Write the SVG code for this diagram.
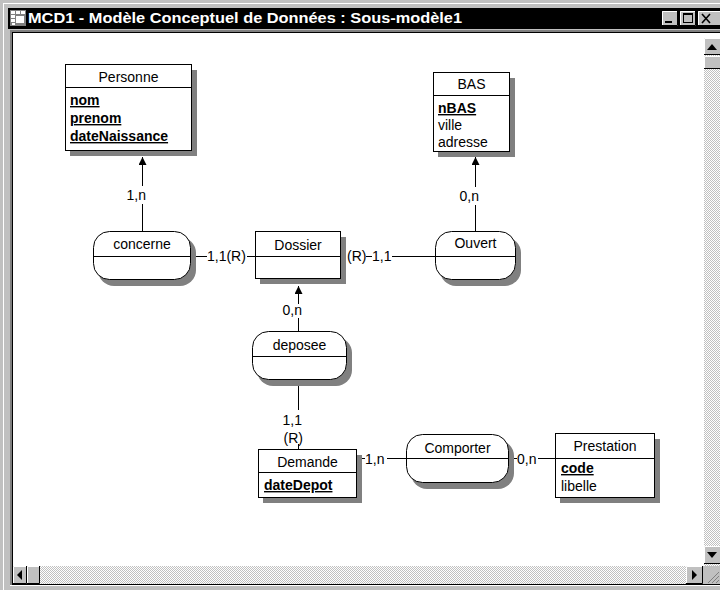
<svg xmlns="http://www.w3.org/2000/svg" width="720" height="590" viewBox="0 0 720 590">
  <style>
    .lbl { font-family: "Liberation Sans", Arial, sans-serif; font-size: 14px; fill: #000; }
    .attr { font-weight: bold; text-decoration: underline; font-size: 14px; }
    .mid { text-anchor: middle; }
    .end { text-anchor: end; }
    .box { fill: #fff; stroke: #000; stroke-width: 1; }
    .shadow { fill: #808080; }
    .sep { stroke: #000; stroke-width: 1; }
    .conn { stroke: #000; stroke-width: 1; fill: none; }
    .btn { fill: #c0c0c0; }
    .hi { stroke: #fff; stroke-width: 1; fill: none; }
    .lo { stroke: #808080; stroke-width: 1; fill: none; }
    .dk { stroke: #000; stroke-width: 1; fill: none; }
  </style>
  <defs>
    <pattern id="dither" width="2" height="2" patternUnits="userSpaceOnUse">
      <rect width="2" height="2" fill="#ffffff"/>
      <rect width="1" height="1" fill="#c0c0c0"/>
      <rect x="1" y="1" width="1" height="1" fill="#c0c0c0"/>
    </pattern>
    <marker id="arrow" markerUnits="userSpaceOnUse" markerWidth="9" markerHeight="9" refX="8" refY="4" orient="auto">
      <path d="M0,0 L8,4 L0,8 Z" fill="#000"/>
    </marker>
  </defs>

  <!-- window frame -->
  <rect x="0" y="0" width="720" height="590" fill="#c0c0c0"/>
  <line x1="3.5" y1="3" x2="3.5" y2="590" class="hi"/>
  <line x1="3" y1="3.5" x2="720" y2="3.5" class="hi"/>

  <!-- title bar -->
  <g id="titlebar">
    <rect x="8" y="8" width="712" height="21" fill="#000"/>
    <g id="appicon">
      <rect x="10" y="10" width="16" height="16" fill="#808080"/>
      <rect x="11" y="11" width="4" height="3" fill="#fff"/>
      <rect x="16" y="11" width="4" height="3" fill="#fff"/>
      <rect x="21" y="11" width="4" height="3" fill="#fff"/>
      <rect x="11" y="15" width="4" height="3" fill="#fff"/>
      <rect x="16" y="16" width="8" height="7" fill="#fff"/>
      <rect x="11" y="19" width="4" height="3" fill="#fff"/>
      <rect x="12" y="23" width="3" height="2" fill="#fff"/>
    </g>
    <text x="28" y="23" font-family="'Liberation Sans', Arial, sans-serif" font-size="15" font-weight="bold" fill="#fff" textLength="434" lengthAdjust="spacingAndGlyphs">MCD1 - Modèle Conceptuel de Données : Sous-modèle1</text>
    <!-- minimize / maximize / close buttons -->
    <g id="btn-min">
      <rect x="662" y="11" width="16" height="15" class="btn"/>
      <path d="M662.5,26 V11.5 H678" class="hi"/>
      <path d="M662,25.5 H677.5 V11" class="dk"/>
      <rect x="665" y="21" width="7" height="2" fill="#000"/>
    </g>
    <g id="btn-max">
      <rect x="680" y="11" width="16" height="15" class="btn"/>
      <path d="M680.5,26 V11.5 H696" class="hi"/>
      <path d="M680,25.5 H695.5 V11" class="dk"/>
      <rect x="683.5" y="13.5" width="9" height="9" fill="none" stroke="#000"/>
      <line x1="683" y1="14.5" x2="693" y2="14.5" stroke="#000"/>
    </g>
    <g id="btn-close">
      <rect x="698" y="11" width="22" height="15" class="btn"/>
      <path d="M698.5,26 V11.5 H720" class="hi"/>
      <line x1="698" y1="25.5" x2="720" y2="25.5" class="dk"/>
      <path d="M702,14 L710,23 M710,14 L702,23" stroke="#000" stroke-width="1.6"/>
    </g>
  </g>

  <!-- client area -->
  <rect x="10" y="30" width="710" height="556" fill="#808080"/>
  <rect x="12" y="32" width="708" height="554" fill="#000"/>
  <rect x="13" y="33" width="707" height="533" fill="#fff"/>

  <!-- vertical scrollbar -->
  <g id="vscroll">
    <rect x="704" y="38" width="16" height="528" fill="url(#dither)"/>
    <rect x="704" y="38" width="16" height="17" class="btn"/>
    <path d="M704.5,55 V38.5 H720" class="hi"/>
    <line x1="704" y1="54.5" x2="720" y2="54.5" class="dk"/>
    <path d="M707,50 L717,50 L712,44 Z" fill="#000"/>
    <rect x="704" y="56" width="16" height="13" class="btn"/>
    <path d="M704.5,69 V56.5 H720" class="hi"/>
    <line x1="704" y1="68.5" x2="720" y2="68.5" class="dk"/>
    <rect x="704" y="546" width="16" height="18" class="btn"/>
    <path d="M704.5,564 V546.5 H720" class="hi"/>
    <line x1="704" y1="563.5" x2="720" y2="563.5" class="dk"/>
    <path d="M707,552 L717,552 L712,558 Z" fill="#000"/>
  </g>

  <!-- horizontal scrollbar -->
  <g id="hscroll">
    <rect x="13" y="566" width="707" height="18" fill="url(#dither)"/>
    <rect x="13" y="566" width="14" height="18" class="btn"/>
    <path d="M13.5,584 V566.5 H27" class="hi"/>
    <path d="M13,583.5 H26.5 V566" class="dk"/>
    <path d="M22,570 L22,580 L17,575 Z" fill="#000"/>
    <rect x="27" y="566" width="13" height="18" class="btn"/>
    <path d="M27.5,584 V566.5 H40" class="hi"/>
    <path d="M27,583.5 H39.5 V566" class="dk"/>
    <rect x="686" y="566" width="17" height="18" class="btn"/>
    <path d="M686.5,584 V566.5 H703" class="hi"/>
    <path d="M686,583.5 H702.5 V566" class="dk"/>
    <path d="M692,570 L692,580 L697,575 Z" fill="#000"/>
    <rect x="703" y="566" width="17" height="18" class="btn"/>
    <path d="M708,583 L719,572 M712,583 L719,576 M716,583 L719,580" stroke="#808080" stroke-width="1"/>
  </g>
  <line x1="10" y1="585.5" x2="720" y2="585.5" class="hi"/>

  <!-- connectors -->
  <g id="connectors">
    <!-- concerne - Personne -->
    <line x1="142.5" y1="232" x2="142.5" y2="204" class="conn"/>
    <line x1="142.5" y1="186" x2="142.5" y2="157" class="conn" marker-end="url(#arrow)"/>
    <text x="146" y="200" class="lbl end">1,n</text>
    <!-- concerne - Dossier -->
    <line x1="191" y1="256.5" x2="207" y2="256.5" class="conn"/>
    <text x="207" y="261" class="lbl">1,1(R)</text>
    <line x1="247" y1="256.5" x2="256" y2="256.5" class="conn"/>
    <!-- Dossier - Ouvert -->
    <text x="347" y="261" class="lbl">(R)</text>
    <line x1="366" y1="256.5" x2="372" y2="256.5" class="conn"/>
    <text x="372" y="261" class="lbl">1,1</text>
    <line x1="392" y1="256.5" x2="436" y2="256.5" class="conn"/>
    <!-- Ouvert - BAS -->
    <line x1="475.5" y1="232" x2="475.5" y2="205" class="conn"/>
    <line x1="475.5" y1="187" x2="475.5" y2="157" class="conn" marker-end="url(#arrow)"/>
    <text x="479" y="201" class="lbl end">0,n</text>
    <!-- deposee - Dossier -->
    <line x1="298.5" y1="332" x2="298.5" y2="318" class="conn"/>
    <line x1="298.5" y1="304" x2="298.5" y2="286" class="conn" marker-end="url(#arrow)"/>
    <text x="302" y="315" class="lbl end">0,n</text>
    <!-- deposee - Demande -->
    <line x1="298.5" y1="380" x2="298.5" y2="410" class="conn"/>
    <text x="302" y="425" class="lbl end">1,1</text>
    <text x="303" y="443" class="lbl end">(R)</text>
    <line x1="298.5" y1="444" x2="298.5" y2="450" class="conn"/>
    <!-- Demande - Comporter -->
    <line x1="360" y1="458.5" x2="365" y2="458.5" class="conn"/>
    <text x="365" y="464" class="lbl">1,n</text>
    <line x1="387" y1="458.5" x2="407" y2="458.5" class="conn"/>
    <!-- Comporter - Prestation -->
    <line x1="509" y1="458.5" x2="517" y2="458.5" class="conn"/>
    <text x="517" y="464" class="lbl">0,n</text>
    <line x1="538" y1="458.5" x2="556" y2="458.5" class="conn"/>
  </g>

  <!-- entities -->
  <g id="personne">
    <rect x="70" y="70" width="127" height="86" class="shadow"/>
    <rect x="65.5" y="64.5" width="126" height="86" class="box"/>
    <line x1="65.5" y1="87.5" x2="191.5" y2="87.5" class="sep"/>
    <text x="128.5" y="82" class="lbl mid">Personne</text>
    <text x="70" y="105" class="lbl attr">nom</text>
    <text x="70" y="123" class="lbl attr">prenom</text>
    <text x="70" y="141" class="lbl attr">dateNaissance</text>
  </g>

  <g id="bas">
    <rect x="438" y="78" width="77" height="79" class="shadow"/>
    <rect x="433.5" y="72.5" width="76" height="79" class="box"/>
    <line x1="433.5" y1="95.5" x2="509.5" y2="95.5" class="sep"/>
    <text x="471.5" y="89" class="lbl mid">BAS</text>
    <text x="438" y="113" class="lbl attr">nBAS</text>
    <text x="438" y="130" class="lbl">ville</text>
    <text x="438" y="147" class="lbl">adresse</text>
  </g>

  <g id="dossier">
    <rect x="260" y="237" width="86" height="47" class="shadow"/>
    <rect x="255.5" y="231.5" width="85" height="47" class="box"/>
    <line x1="255.5" y1="256.5" x2="340.5" y2="256.5" class="sep"/>
    <text x="298" y="250" class="lbl mid">Dossier</text>
  </g>

  <g id="demande">
    <rect x="263" y="455" width="99" height="48" class="shadow"/>
    <rect x="258.5" y="449.5" width="98" height="48" class="box"/>
    <line x1="258.5" y1="472.5" x2="356.5" y2="472.5" class="sep"/>
    <text x="307.5" y="467" class="lbl mid">Demande</text>
    <text x="264" y="490" class="lbl attr">dateDepot</text>
  </g>

  <g id="prestation">
    <rect x="560" y="439" width="100" height="64" class="shadow"/>
    <rect x="555.5" y="433.5" width="99" height="64" class="box"/>
    <line x1="555.5" y1="458.5" x2="654.5" y2="458.5" class="sep"/>
    <text x="605" y="451" class="lbl mid">Prestation</text>
    <text x="561" y="473" class="lbl attr">code</text>
    <text x="561" y="491" class="lbl">libelle</text>
  </g>

  <!-- relationships -->
  <g id="concerne">
    <rect x="98" y="237" width="98" height="49" rx="16" class="shadow"/>
    <rect x="93.5" y="231.5" width="97" height="48" rx="16" class="box"/>
    <line x1="93.5" y1="256.5" x2="190.5" y2="256.5" class="sep"/>
    <text x="142" y="249" class="lbl mid">concerne</text>
  </g>

  <g id="ouvert">
    <rect x="440" y="237" width="81" height="49" rx="16" class="shadow"/>
    <rect x="435.5" y="231.5" width="80" height="48" rx="16" class="box"/>
    <line x1="435.5" y1="256.5" x2="515.5" y2="256.5" class="sep"/>
    <text x="475.5" y="248" class="lbl mid">Ouvert</text>
  </g>

  <g id="deposee">
    <rect x="257" y="337" width="95" height="49" rx="16" class="shadow"/>
    <rect x="252.5" y="331.5" width="94" height="48" rx="16" class="box"/>
    <line x1="252.5" y1="356.5" x2="346.5" y2="356.5" class="sep"/>
    <text x="299.5" y="350" class="lbl mid">deposee</text>
  </g>

  <g id="comporter">
    <rect x="411" y="440" width="103" height="49" rx="16" class="shadow"/>
    <rect x="406.5" y="434.5" width="102" height="48" rx="16" class="box"/>
    <line x1="406.5" y1="458.5" x2="508.5" y2="458.5" class="sep"/>
    <text x="457.5" y="453" class="lbl mid">Comporter</text>
  </g>
</svg>
